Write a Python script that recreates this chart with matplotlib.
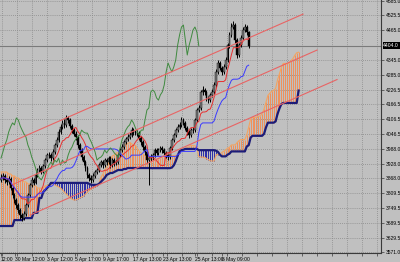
import numpy as np
import pandas as pd
import matplotlib
matplotlib.use("Agg")
import matplotlib.pyplot as plt

# H4 candles (bar 0 = left edge)
first_open = 3860
close = [3870, 3878, 3862, 3854, 3866, 3829, 3801, 3781, 3761, 3741,
         3720, 3708, 3725, 3761, 3801, 3841, 3862, 3850, 3882, 3902,
         3910, 3894, 3918, 3942, 3963, 3963, 3950, 3975, 4003, 4023,
         4055, 4076, 4092, 4084, 4112, 4104, 4080, 4063, 4047, 4035,
         4003, 3983, 3954, 3934, 3910, 3882, 3870, 3862, 3878, 3894,
         3902, 3922, 3934, 3922, 3942, 3934, 3950, 3922, 3942, 3930,
         3934, 3963, 3983, 3995, 4015, 4027, 4035, 4043, 4063, 4055,
         4051, 4051, 4031, 4015, 3995, 3975, 3942, 3950, 3954, 3963,
         3983, 3971, 3983, 3991, 3983, 3971, 3963, 3954, 3991, 4023,
         4043, 4063, 4076, 4084, 4104, 4092, 4072, 4055, 4043, 4063,
         4063, 4104, 4144, 4152, 4217, 4225, 4217, 4193, 4184, 4205,
         4217, 4245, 4298, 4334, 4314, 4298, 4318, 4346, 4406, 4447,
         4479, 4487, 4427, 4366, 4406, 4435, 4467, 4479, 4459, 4404]
high = [3884, 3890, 3885, 3870, 3876, 3872, 3836, 3810, 3790, 3770,
        3750, 3728, 3735, 3770, 3810, 3850, 3872, 3870, 3892, 3912,
        3922, 3918, 3928, 3952, 3972, 3975, 3970, 3985, 4012, 4034,
        4066, 4088, 4104, 4106, 4124, 4120, 4110, 4088, 4072, 4058,
        4042, 4010, 3990, 3962, 3942, 3918, 3890, 3880, 3888, 3904,
        3912, 3932, 3944, 3942, 3952, 3950, 3960, 3958, 3950, 3950,
        3944, 3972, 3992, 4005, 4024, 4036, 4046, 4054, 4074, 4070,
        4064, 4062, 4058, 4038, 4022, 4002, 3982, 3960, 3966, 3972,
        3992, 3990, 3992, 4000, 3998, 3990, 3978, 3970, 4000, 4032,
        4052, 4072, 4088, 4096, 4114, 4112, 4098, 4078, 4062, 4072,
        4075, 4112, 4154, 4164, 4226, 4240, 4234, 4224, 4200, 4214,
        4228, 4256, 4308, 4346, 4340, 4322, 4328, 4356, 4416, 4460,
        4496, 4505, 4494, 4434, 4416, 4446, 4480, 4490, 4486, 4464]
low = [3852, 3862, 3850, 3842, 3846, 3820, 3790, 3770, 3748, 3730,
       3705, 3695, 3700, 3718, 3752, 3795, 3832, 3840, 3844, 3872,
       3894, 3884, 3888, 3910, 3934, 3950, 3940, 3942, 3966, 3995,
       4015, 4046, 4066, 4072, 4076, 4092, 4070, 4052, 4038, 4024,
       3992, 3972, 3942, 3922, 3898, 3870, 3858, 3850, 3854, 3870,
       3886, 3895, 3914, 3912, 3914, 3924, 3926, 3912, 3914, 3920,
       3922, 3928, 3955, 3975, 3988, 4006, 4018, 4026, 4036, 4045,
       4042, 4040, 4022, 4004, 3984, 3964, 3930, 3840, 3940, 3944,
       3955, 3962, 3962, 3974, 3972, 3962, 3952, 3944, 3948, 3984,
       4015, 4035, 4055, 4068, 4076, 4082, 4062, 4044, 4032, 4036,
       4052, 4056, 4096, 4136, 4145, 4206, 4205, 4182, 4172, 4176,
       4196, 4210, 4238, 4290, 4304, 4286, 4290, 4310, 4338, 4396,
       4438, 4470, 4416, 4354, 4358, 4398, 4426, 4460, 4448, 4395]

# cloud values at the left edge come from bars before the visible window
span_a_early = ([3894] * 4 + [3886, 3886, 3878, 3878, 3870, 3870, 3862, 3862, 3854,
                3854, 3846, 3846, 3838, 3838, 3838, 3829, 3829, 3829, 3829,
                3838, 3838, 3842, 3846, 3846, 3842, 3838, 3834, 3829,
                3821, 3813, 3805, 3797, 3789, 3785, 3781, 3781, 3785, 3789,
                3793, 3797, 3805, 3813, 3821, 3825, 3829, 3834, 3838, 3846])
span_b_early = ([3676] * 7 + [3700] * 5 + [3708] * 5 + [3729] * 3 + [3789] * 2
                + [3813, 3821, 3829, 3838] + [3850] * 20
                + [3846, 3842, 3842, 3842, 3842, 3846, 3854]
                + [3862, 3870, 3882, 3886, 3890, 3890, 3894, 3898]
                + [3902, 3902, 3902, 3906, 3906, 3910, 3910, 3910] + [3910] * 9)

last_price = 4404.0
y_ticks = [3571.0, 3629.5, 3689.5, 3749.5, 3809.5, 3868.0, 3928.0, 3988.0, 4046.5,
           4106.5, 4166.5, 4226.5, 4285.0, 4345.0, 4465.0, 4525.5, 4585.0]
x_labels = ["12:00", "30 Mar 12:00", "3 Apr 12:00", "5 Apr 17:00", "9 Apr 17:00",
            "17 Apr 13:00", "23 Apr 13:00", "25 Apr 13:00", "6 May 09:00"]
x_label_bars = [0, 7.3, 24, 38.5, 53, 68.8, 84.4, 101, 115]

# regression channel (start bar, end bar, start price, end price)
chan_x0 = [-0.5, 6.3, 15.1]
chan_x1 = [157.3, 164.6, 175.0]
chan_y0 = [3995, 3844, 3720]
chan_y1 = [4531, 4386, 4267]

BG = "#c0c0c0"
GRID = "#8a8a8a"
FONT = ["Liberation Sans Narrow", "Liberation Sans", "DejaVu Sans"]

h = pd.Series(high, dtype=float)
l = pd.Series(low, dtype=float)
c = np.array(close, dtype=float)
o = np.r_[first_open, c[:-1]]
n = len(c)
bars = np.arange(n)

tenkan = (h.rolling(9, min_periods=1).max() + l.rolling(9, min_periods=1).min()) / 2
kijun = (h.rolling(26, min_periods=1).max() + l.rolling(26, min_periods=1).min()) / 2
mid52 = (h.rolling(52, min_periods=1).max() + l.rolling(52, min_periods=1).min()) / 2
span_a = np.r_[span_a_early, ((tenkan + kijun) / 2).values[26:]]
span_b = np.r_[span_b_early, mid52.values[52:]]
cloud_x = np.arange(len(span_a))

fig = plt.figure(figsize=(4.0, 2.62), dpi=100, facecolor=BG)
ax = fig.add_axes([0, 9 / 262, 381 / 400, 253 / 262])
ax.set_facecolor(BG)
ax.set_xlim(-0.52, 197.9)
ax.set_ylim(3567.1, 4588)

# dotted grid
grid_x = (0.7 + 15 * np.arange(26)) / 1.92
for gx in grid_x:
    ax.axvline(gx, color=GRID, lw=0.6, ls=(0, (1, 1.5)), zorder=0)
for gy in y_ticks:
    ax.axhline(gy, color=GRID, lw=0.6, ls=(0, (1, 1.5)), zorder=0)

# kumo drawn as histogram lines
up = span_a >= span_b
ax.vlines(cloud_x[up], span_b[up], span_a[up], color="#f0905a", lw=0.7, zorder=1)
ax.vlines(cloud_x[~up], span_a[~up], span_b[~up], color="#2c2ca8", lw=0.7, zorder=1)
ax.plot(cloud_x, span_a, color="#f4a460", lw=0.8, zorder=2)
ax.plot(cloud_x, span_b, color="#1c1c78", lw=1.6, zorder=2)

# candles
ax.vlines(bars, low, high, color="black", lw=0.7, zorder=3)
bull = c >= o
ax.bar(bars[bull], (c - o)[bull], bottom=o[bull], width=0.9, color="#7a7a7a",
       edgecolor="black", lw=0.3, zorder=4)
ax.bar(bars[~bull], (o - c)[~bull], bottom=c[~bull], width=0.9, color="black",
       edgecolor="black", lw=0.3, zorder=4)

# ichimoku lines
ax.plot(bars, tenkan, color="#e83030", lw=0.7, zorder=5)
ax.plot(bars, kijun, color="#3a3aff", lw=0.7, zorder=5)
ax.plot(bars[:n - 26], c[26:], color="#3f8a3f", lw=0.7, zorder=5)

# channel
for x0, x1, y0, y1 in zip(chan_x0, chan_x1, chan_y0, chan_y1):
    ax.plot([x0, x1], [y0, y1], color="#e86464", lw=0.8, zorder=6)

# current price
ax.axhline(last_price, color="#7a7a7a", lw=0.8, zorder=1)
ax.text(1.006, last_price, f"{last_price:.1f}", transform=ax.get_yaxis_transform(),
        fontsize=3.6, family=FONT, color="white", va="center", ha="left",
        bbox=dict(boxstyle="square,pad=0.15", fc="black", ec="none"))

for s in ["top", "left"]:
    ax.spines[s].set_visible(False)
for s in ["right", "bottom"]:
    ax.spines[s].set_color("#3a3a3a")
    ax.spines[s].set_linewidth(0.8)

ax.yaxis.tick_right()
ax.set_yticks(y_ticks)
ax.set_yticklabels([f"{v:.1f}" for v in y_ticks], fontsize=3.6, family=FONT)
ax.tick_params(axis="y", length=2, width=0.5, pad=1.2, colors="#3a3a3a", labelcolor="black")

ax.set_xticks(grid_x, minor=True)
ax.set_xticks(x_label_bars)
ax.set_xticklabels(x_labels, fontsize=3.6, family=FONT, ha="left")
ax.tick_params(axis="x", which="both", length=2, width=0.5, pad=1, colors="#3a3a3a",
               labelcolor="black")

fig.savefig("out.png", dpi=100, facecolor=BG)
